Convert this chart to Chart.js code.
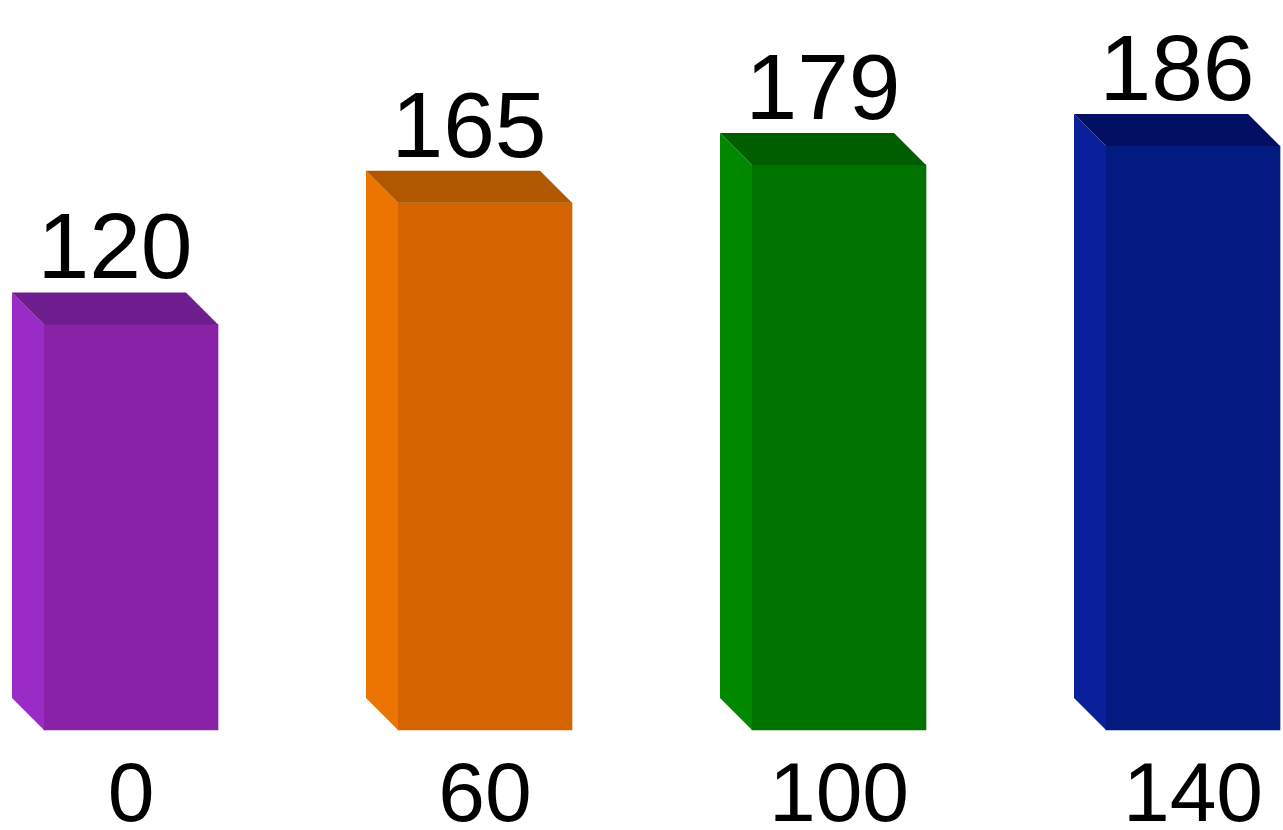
<!DOCTYPE html>
<html lang="en">
<head>
    <meta charset="UTF-8">
    <title>3D Bars</title>
    <script src="https://cdn.jsdelivr.net/npm/chart.js"></script>
    <style>
        body {
            margin: 0;
            padding: 0;
            background: #ffffff;
            font-family: "Liberation Sans", Arial, sans-serif;
        }
        canvas { display: block; }
    </style>
</head>
<body>
    <canvas id="barChart" width="1283" height="830"></canvas>

    <script>
        const categories = ['0', '60', '100', '140'];
        const values = [120, 165, 179, 186];
        const frontColors = ['#8a22a8', '#d46400', '#007200', '#031a80'];
        const sideColors = ['#9a2bc6', '#ec7400', '#008800', '#0a1f9c'];
        const topColors = ['#6e1d8e', '#b05800', '#005e00', '#020f62'];

        const DEPTH = 32;
        const AXIS_MIN = -30;

        // side and top faces plus the value on top of each bar
        const bar3d = {
            id: 'bar3d',
            afterDatasetsDraw(chart) {
                const ctx = chart.ctx;
                const meta = chart.getDatasetMeta(0);
                meta.data.forEach((bar, i) => {
                    const p = bar.getProps(['x', 'y', 'base', 'width'], true);
                    const l = p.x - p.width / 2;
                    const r = p.x + p.width / 2;
                    ctx.save();
                    ctx.fillStyle = sideColors[i];
                    ctx.beginPath();
                    ctx.moveTo(l, p.y);
                    ctx.lineTo(l - DEPTH, p.y - DEPTH);
                    ctx.lineTo(l - DEPTH, p.base - DEPTH);
                    ctx.lineTo(l, p.base);
                    ctx.closePath();
                    ctx.fill();
                    ctx.fillStyle = topColors[i];
                    ctx.beginPath();
                    ctx.moveTo(l, p.y);
                    ctx.lineTo(l - DEPTH, p.y - DEPTH);
                    ctx.lineTo(r - DEPTH, p.y - DEPTH);
                    ctx.lineTo(r, p.y);
                    ctx.closePath();
                    ctx.fill();
                    ctx.fillStyle = '#000000';
                    ctx.font = '93px "Liberation Sans", Arial, sans-serif';
                    ctx.textAlign = 'center';
                    ctx.textBaseline = 'alphabetic';
                    ctx.fillText(values[i], p.x - DEPTH / 2, p.y - DEPTH - 14);
                    ctx.restore();
                });
            }
        };

        const ctx = document.getElementById('barChart').getContext('2d');
        new Chart(ctx, {
            type: 'bar',
            data: {
                labels: categories,
                datasets: [{
                    data: values,
                    base: AXIS_MIN,
                    backgroundColor: frontColors,
                    borderWidth: 0,
                    barThickness: 174,
                    clip: false
                }]
            },
            options: {
                responsive: false,
                animation: false,
                layout: {
                    padding: { left: 131, right: 90, top: 0, bottom: 0 }
                },
                plugins: {
                    legend: { display: false },
                    tooltip: { enabled: false }
                },
                scales: {
                    x: {
                        offset: false,
                        grid: { display: false },
                        border: { display: false },
                        afterFit(scale) { scale.height = 100; },
                        ticks: {
                            autoSkip: false,
                            maxRotation: 0,
                            padding: 12,
                            color: '#000000',
                            font: { family: '"Liberation Sans", Arial, sans-serif', size: 84, lineHeight: 1.15 }
                        }
                    },
                    y: {
                        display: false,
                        min: AXIS_MIN,
                        max: 240
                    }
                }
            },
            plugins: [bar3d]
        });
    </script>
</body>
</html>
